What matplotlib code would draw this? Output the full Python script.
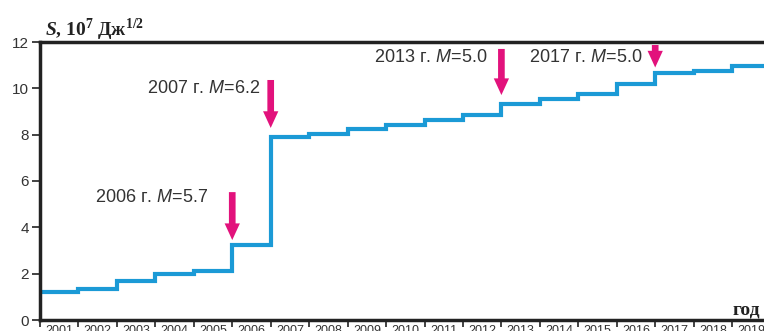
import numpy as np
import matplotlib
matplotlib.use("Agg")
import matplotlib.pyplot as plt

# cumulative strain release, 10^7 J^1/2, one level per year
years = list(range(2001, 2020))
levels = [1.19, 1.34, 1.68, 2.00, 2.13, 3.25, 7.91, 8.03, 8.23, 8.41,
          8.63, 8.85, 9.32, 9.54, 9.74, 10.17, 10.65, 10.74, 10.98]

# strong events: year of the jump, label, arrow tip / tail values
event_years = [2006, 2007, 2013, 2017]
event_labels = ["2006 г. $M$=5.7", "2007 г. $M$=6.2",
                "2013 г. $M$=5.0", "2017 г. $M$=5.0"]
arrow_tip = [3.45, 8.29, 9.71, 10.90]
arrow_tail = [5.52, 10.36, 11.70, 11.87]
label_x = [4.37, 5.72, 11.63, 15.66]
label_y = [5.27, 10.0, 11.35, 11.35]

plt.rcParams["font.family"] = ["Liberation Sans", "DejaVu Sans"]
plt.rcParams["mathtext.fontset"] = "custom"
plt.rcParams["mathtext.rm"] = "Liberation Serif:bold"
plt.rcParams["mathtext.bf"] = "Liberation Serif:bold:italic"
plt.rcParams["mathtext.it"] = "Liberation Sans:italic"

W, H = 764, 331
fig = plt.figure(figsize=(W / 100, H / 100), dpi=100)
x0, px_year = 40, 38.45
ax = fig.add_axes([x0 / W, 11 / H, len(years) * px_year / W, (320 - 42) / H])

edges = np.arange(len(years) + 1)
ax.stairs(levels, edges, baseline=None, color="#1b9ad6", lw=3)

arrow_col = "#e2127c"
for yr, lab, tip, tail, lx, ly in zip(event_years, event_labels, arrow_tip,
                                      arrow_tail, label_x, label_y):
    xb = yr - years[0]
    ax.annotate("", xy=(xb, tip), xytext=(xb, tail),
                arrowprops=dict(arrowstyle="simple,head_length=12,head_width=11,tail_width=4.8",
                                mutation_scale=1, color=arrow_col, shrinkA=0, shrinkB=0, lw=0))
    ax.text(lx, ly, lab, ha="right", va="center", fontsize=13, color="#333333")

ax.set_xlim(0, len(years))
ax.set_ylim(0, 12)
ax.set_yticks(np.arange(0, 13, 2))
ax.tick_params(axis="y", direction="out", length=6, width=1.2, pad=2,
               labelsize=11, labelcolor="#333333", color="#222222")

# year boundaries as ticks, year names centred between them
ax.set_xticks(edges)
ax.set_xticklabels([])
ax.set_xticks(edges[:-1] + 0.5, minor=True)
ax.set_xticklabels([str(y) for y in years], minor=True)
ax.tick_params(axis="x", which="major", direction="out", length=5, width=1.2, color="#222222")
ax.tick_params(axis="x", which="minor", length=0, pad=3.5, labelsize=9, labelcolor="#333333")

for side in ["left", "bottom", "top"]:
    ax.spines[side].set_linewidth(2.5)
    ax.spines[side].set_color("#222222")
ax.spines["right"].set_visible(False)

fig.text(45 / W, (H - 35) / H, r"$\mathbf{S}$, 10$^{7}$ Дж$^{1/2}$",
         fontfamily="Liberation Serif", fontweight="bold", fontsize=14,
         ha="left", va="baseline", color="#222222")
fig.text(760 / W, (H - 314) / H, "год", fontfamily="Liberation Serif",
         fontweight="bold", fontsize=14, ha="right", va="baseline", color="#222222")

fig.savefig("out.png", dpi=100)
